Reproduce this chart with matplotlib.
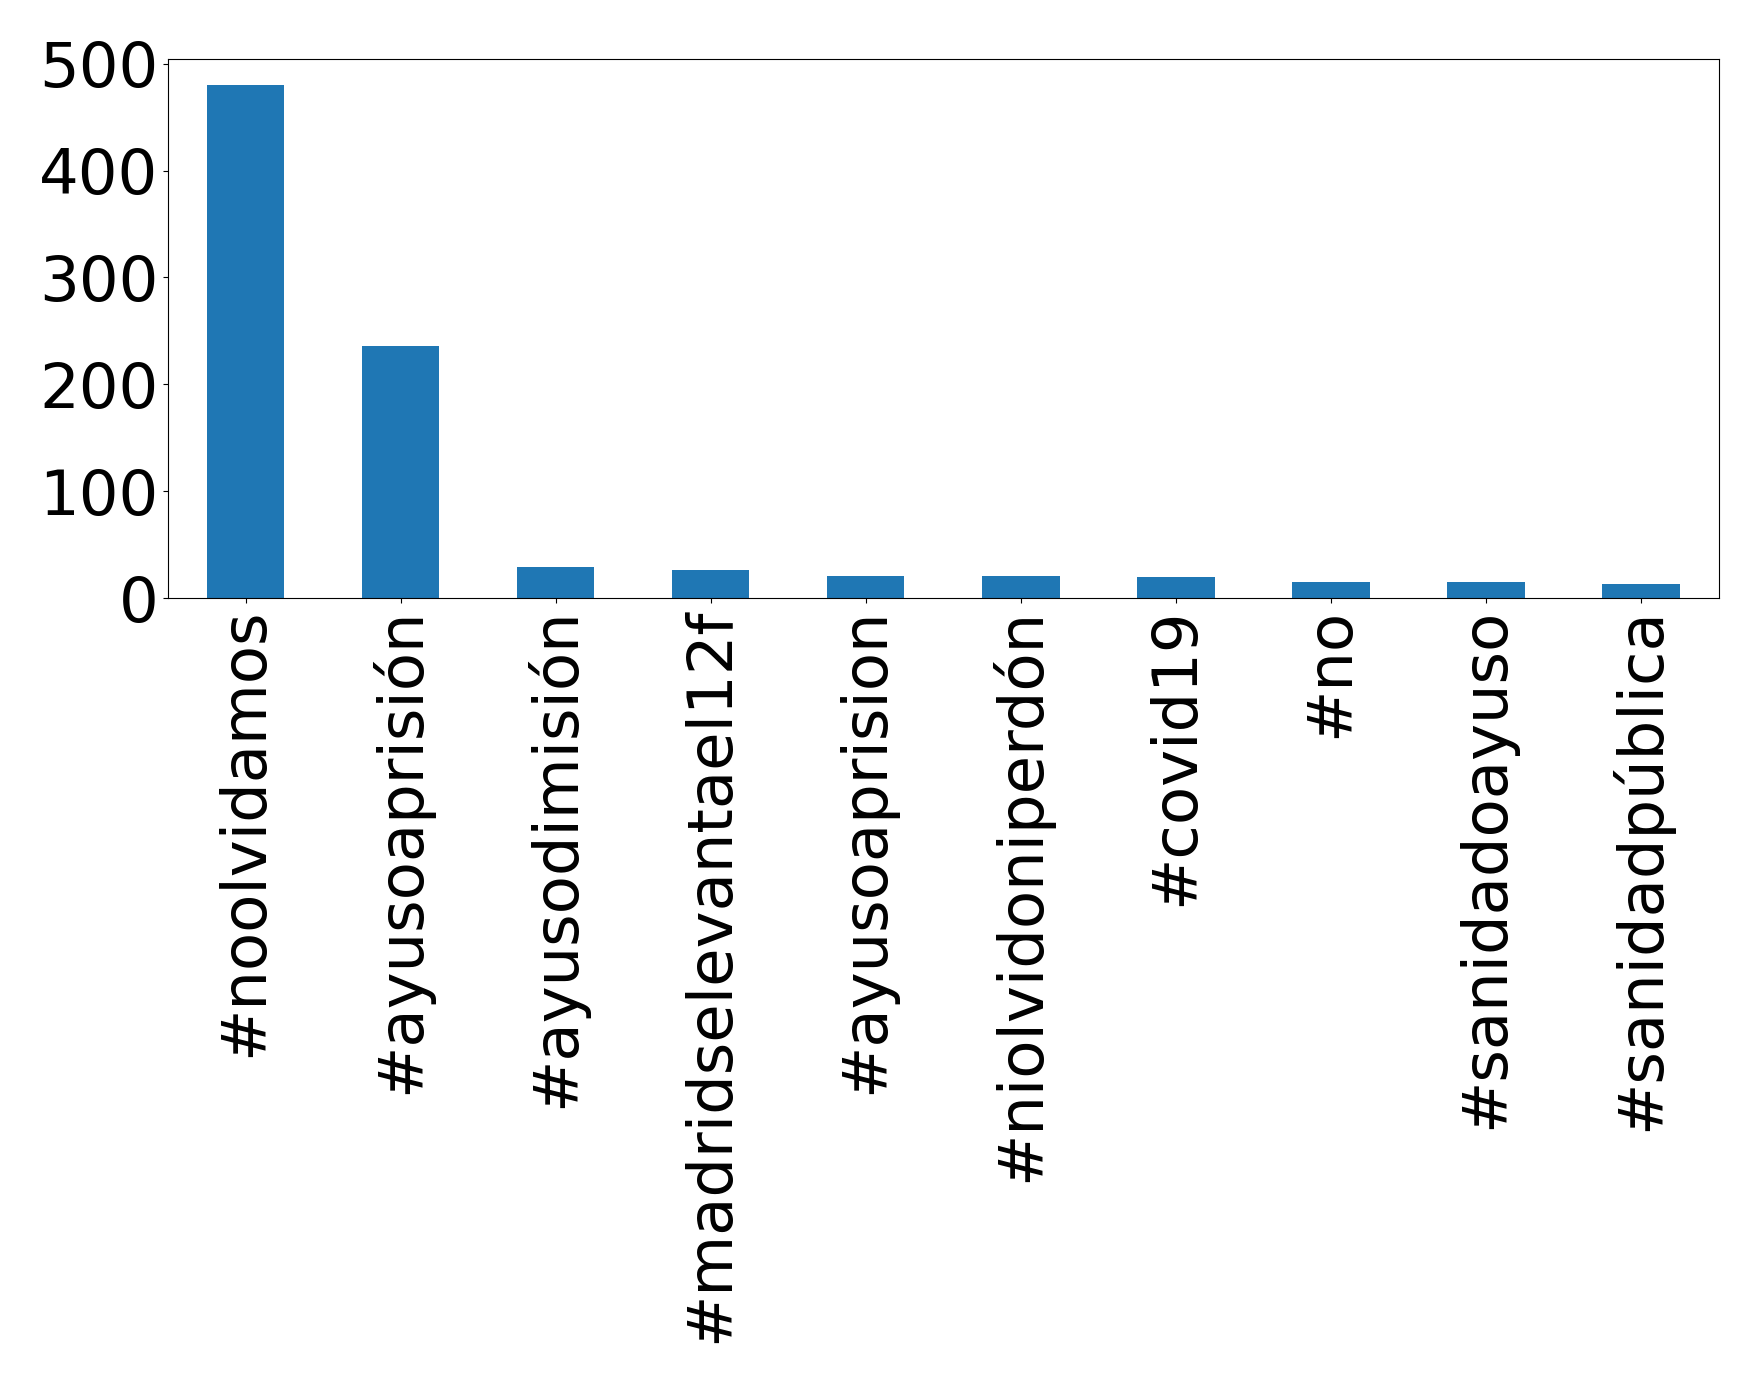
import matplotlib
matplotlib.use('Agg')
import matplotlib.pyplot as plt
from matplotlib.ticker import MultipleLocator

hashtags = ['#noolvidamos', '#ayusoaprisión', '#ayusodimisión', '#madridselevantael12f',
            '#ayusoaprision', '#niolvidoniperdón', '#covid19', '#no',
            '#sanidadoayuso', '#sanidadpública']
counts = [480, 236, 29, 26, 21, 21, 20, 15, 15, 13]

fig = plt.figure(figsize=(17.59, 13.83), dpi=100)
ax = fig.add_axes([0.0955, 0.5676, 0.8815, 0.3894])

x = range(len(hashtags))
ax.bar(x, counts, width=0.5, color='#1f77b4')
ax.set_xlim(-0.5, len(hashtags) - 0.5)
ax.set_ylim(0, max(counts) * 1.05)
ax.yaxis.set_major_locator(MultipleLocator(100))
ax.set_xticks(list(x))
ax.set_xticklabels(hashtags, rotation=90)
ax.tick_params(axis='both', labelsize=45)

fig.savefig('out.png', dpi=100)
